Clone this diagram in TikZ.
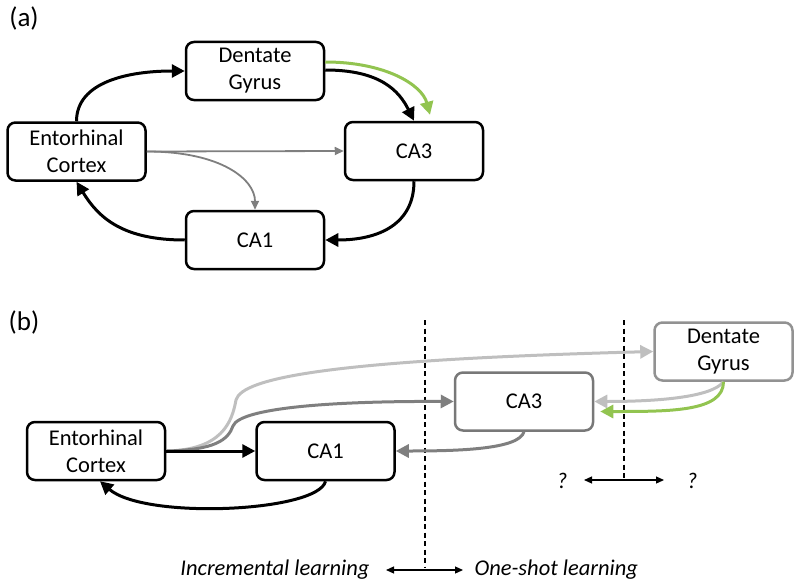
\documentclass[tikz,border=0pt]{standalone}
\usepackage{fontspec}
\setmainfont{Carlito}
\usetikzlibrary{arrows.meta,calc}
\definecolor{lgray}{RGB}{191,191,191}
\definecolor{dgray}{RGB}{127,127,127}
\definecolor{bgray}{RGB}{120,120,120}
\definecolor{ggreen}{RGB}{146,196,80}
\begin{document}
\begin{tikzpicture}[x=1pt,y=-1pt,
  box/.style={draw, line width=2.5pt, rounded corners=8pt, minimum width=138pt, minimum height=58pt, align=center, inner sep=0pt, font=\fontsize{22.5}{27}\selectfont},
  graybox/.style={box, draw=bgray},
  heavy/.style={line width=3pt, -{Triangle[length=13pt,width=13pt]}},
  thinarrow/.style={line width=1.8pt, draw=dgray, -{Triangle[length=9pt,width=8pt,fill=dgray]}},
  panel/.style={font=\fontsize{27}{30}\selectfont},
  lab/.style={font=\itshape\fontsize{22.5}{26}\selectfont},
  divider/.style={line width=1.2pt, dash pattern=on 5pt off 3.5pt},
  twoway/.style={line width=1.2pt, {Triangle[length=8pt,width=7pt]}-{Triangle[length=8pt,width=7pt]}}
]
\useasboundingbox (0,0) rectangle (800,586);

% ---------- panel (a)
\node[panel] (pa) at (24,18) {(a)};
\node[box] (dg) at (255,71) {Dentate\\Gyrus};
\node[box] (ec) at (76.5,151.5) {Entorhinal\\Cortex};
\node[box] (ca3) at (414,151) {CA3};
\node[box] (ca1) at (255,240) {CA1};

\draw[heavy] (ec.north) .. controls +(0,-40) and +(-55,0) .. (dg.west);
\draw[heavy, draw=ggreen, -{Triangle[length=13pt,width=13pt,fill=ggreen]}]
  ($(dg.east)+(0,-9)$) .. controls +(60,0) and +(-8,-30) .. ($(ca3.north)+(16,-6)$);
\draw[heavy] ($(dg.east)+(0,-1)$) .. controls +(55,0) and +(-15,-30) .. (ca3.north);
\draw[heavy] (ca3.south) .. controls +(0,42) and +(55,0) .. (ca1.east);
\draw[heavy] (ca1.west) .. controls +(-62,0) and +(22,36) .. (ec.south);
\draw[thinarrow] (ec.east) -- (ca3.west);
\draw[thinarrow] (ec.east) .. controls +(75,0) and +(0,-30) .. (ca1.north);

% ---------- panel (b)
\node[panel] (pb) at (24,322) {(b)};
\node[box] (ecb) at (96,451) {Entorhinal\\Cortex};
\node[box] (ca1b) at (325.5,451) {CA1};
\node[graybox] (ca3b) at (524,401.5) {CA3};
\node[graybox, draw=dgray!85] (dgb) at (723.5,351.5) {Dentate\\Gyrus};

\coordinate (d1t) at (425,320);
\coordinate (d1b) at (425,568);
\coordinate (d2t) at (624,320);
\coordinate (d2b) at (624,480);
\draw[divider] (d1t) -- (d1b);
\draw[divider] (d2t) -- (d2b);

\draw[heavy, draw=lgray, -{Triangle[length=13pt,width=13pt,fill=lgray]}]
  (ecb.east) .. controls (222,450) and (232,422) .. (236,400)
  .. controls (242,378) and (330,360) .. (dgb.west);
\draw[heavy, draw=dgray, -{Triangle[length=13pt,width=13pt,fill=dgray]}]
  (ecb.east) .. controls (215,450) and (228,440) .. (233,426)
  .. controls (240,408) and (330,401) .. (ca3b.west);
\draw[heavy] (ecb.east) -- (ca1b.west);
\draw[heavy] (ca1b.south) .. controls (318,512) and (145,520) .. ([xshift=4pt]ecb.south);
\draw[heavy, draw=dgray, -{Triangle[length=13pt,width=13pt,fill=dgray]}]
  (ca3b.south) .. controls +(-5,18) and +(60,0) .. (ca1b.east);
\draw[heavy, draw=lgray, -{Triangle[length=13pt,width=13pt,fill=lgray]}]
  (dgb.south) .. controls +(-12,16) and +(60,0) .. (ca3b.east);
\draw[heavy, draw=ggreen, -{Triangle[length=13pt,width=13pt,fill=ggreen]}]
  (dgb.south) .. controls +(0,30) and +(70,0) .. ($(ca3b.east)+(6,10)$);

\node[lab] (q1) at (562,481) {?};
\node[lab] (q2) at (692,481) {?};
\coordinate (s1l) at (584,480);
\coordinate (s1r) at (664,480);
\draw[twoway] (s1l) -- (s1r);

\node[lab, anchor=east] (inc) at (373,570) {Incremental learning};
\node[lab, anchor=west] (one) at (471,570) {One-shot learning};
\coordinate (s2l) at (386,570);
\coordinate (s2r) at (463,570);
\draw[twoway] (s2l) -- (s2r);
\end{tikzpicture}
\end{document}
